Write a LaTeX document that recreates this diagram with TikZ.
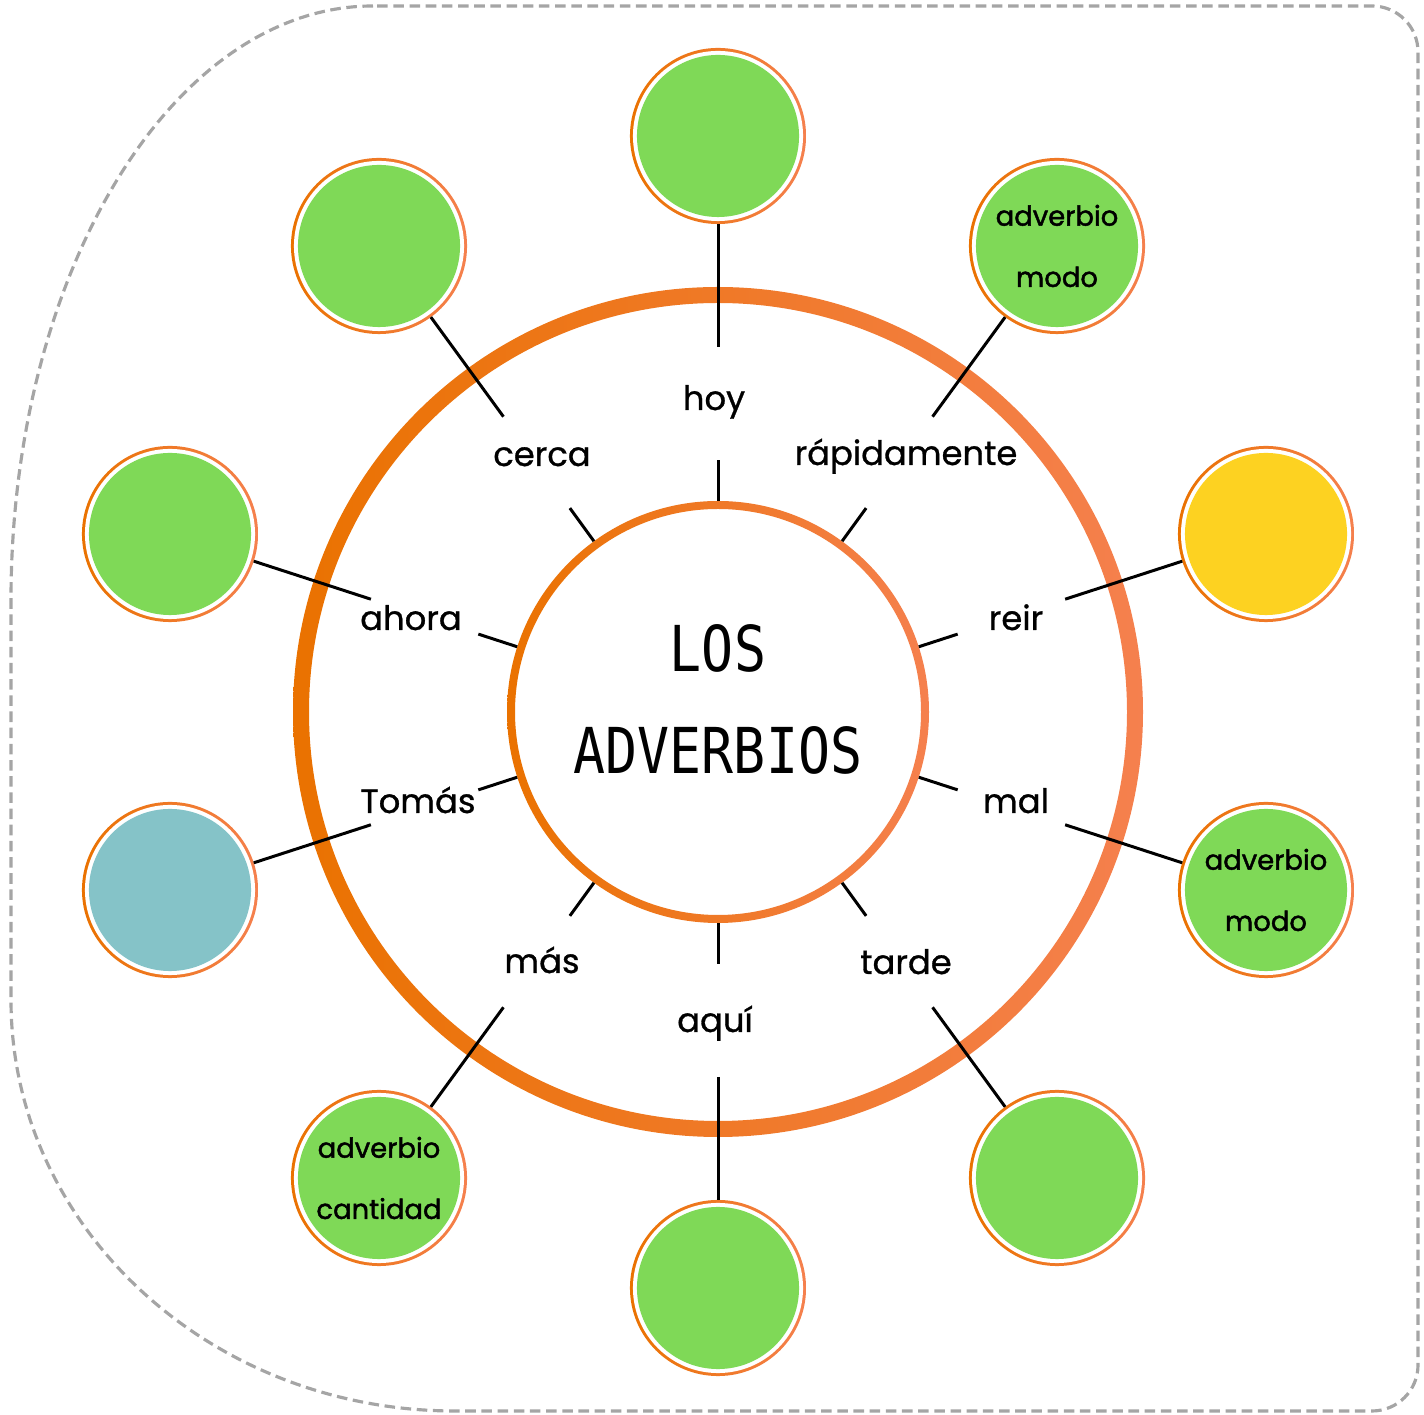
\documentclass[tikz,border=0pt]{standalone}
\usepackage{fontspec}
\setmainfont{Poppins}
\newfontfamily\wordfont[FakeBold=0.9]{Poppins}
\newfontfamily\tagfont[FakeBold=1.6]{Poppins}
\newfontfamily\titlefont[FakeStretch=0.84]{DejaVu Sans Mono}
\usetikzlibrary{calc}

\definecolor{leafgreen}{RGB}{127,217,87}
\definecolor{sunyellow}{RGB}{253,210,33}
\definecolor{seablue}{RGB}{133,195,200}
\definecolor{ringdark}{RGB}{234,114,0}
\definecolor{ringlight}{RGB}{245,128,78}
\definecolor{framegray}{RGB}{165,165,165}

\tikzset{
  bubble/.style={circle, inner sep=0pt, outer sep=0pt, minimum size=1.76cm, align=center,
    font=\tagfont\fontsize{7.8}{17.4}\selectfont,
    path picture={
      \shade[left color=ringdark, right color=ringlight]
        (path picture bounding box.south west) rectangle (path picture bounding box.north east);
      \fill[white] (path picture bounding box.center) circle (0.85cm);
      \fill[#1] (path picture bounding box.center) circle (0.81cm);}},
  word/.style={anchor=base, inner sep=0pt, font=\wordfont\fontsize{9.6}{11}\selectfont},
  title/.style={align=center, font=\titlefont\fontsize{18}{29}\selectfont},
  link/.style={line width=0.85pt},
  frame/.style={draw=framegray, line width=0.9pt, dash pattern=on 3pt off 1.6pt},
}

\begin{document}
\begin{tikzpicture}[x=0.01cm, y=0.01cm]
  \useasboundingbox (0,0) rectangle (1424,1415);
  % dashed outline
  \draw[frame] (373,1409) arc[start angle=90, end angle=180, x radius=362, y radius=594]
    -- (11,415) arc[start angle=180, end angle=270, x radius=444, y radius=411]
    -- (1372,4) arc[start angle=270, end angle=360, radius=46]
    -- (1418,1363) arc[start angle=0, end angle=90, radius=46] -- cycle;

  % centre and rings
  \node[circle, minimum size=4.22cm, inner sep=0pt, outer sep=0pt] (core) at (718,703) {};
  \shade[left color=ringdark, right color=ringlight, even odd rule] (core) circle (425) (core) circle (409);
  \shade[left color=ringdark, right color=ringlight, even odd rule] (core) circle (211) (core) circle (203);
  \node[title] (title) at (718,716) {LOS\\ADVERBIOS};

  % bubbles
  \node[bubble=leafgreen] (b-hoy) at (718,1279) {};
  \node[bubble=leafgreen] (b-rap) at (1057,1169) {adverbio\\modo};
  \node[bubble=sunyellow] (b-reir) at (1266,881) {};
  \node[bubble=leafgreen] (b-mal) at (1266,525) {adverbio\\modo};
  \node[bubble=leafgreen] (b-tarde) at (1057,237) {};
  \node[bubble=leafgreen] (b-aqui) at (718,127) {};
  \node[bubble=leafgreen] (b-mas) at (379,237) {adverbio\\cantidad};
  \node[bubble=seablue] (b-tomas) at (170,525) {};
  \node[bubble=leafgreen] (b-ahora) at (170,881) {};
  \node[bubble=leafgreen] (b-cerca) at (379,1169) {};

  % words
  \node[word] (hoy) at (714,1005) {hoy}; \node[word] (cerca) at (542,949) {cerca};
  \node[word] (rap) at (906,950) {rápidamente}; \node[word] (ahora) at (411,785) {ahora};
  \node[word] (reir) at (1016,785) {reir}; \node[word] (tomas) at (418,602) {Tomás};
  \node[word] (mal) at (1016,602) {mal}; \node[word] (mas) at (542,442) {más};
  \node[word] (tarde) at (906,441) {tarde}; \node[word] (aqui) at (715,383) {aquí};

  % spokes
  \foreach \ang/\tag in {90/hoy,54/rap,18/reir,-18/mal,-54/tarde,-90/aqui,-126/mas,-162/tomas,162/ahora,126/cerca}{
    \path (core) ++(\ang:252) coordinate (in-\tag) ++(\ang:113) coordinate (out-\tag);
    \draw[link] (core) -- (in-\tag) (out-\tag) -- (b-\tag);
  }
\end{tikzpicture}
\end{document}
